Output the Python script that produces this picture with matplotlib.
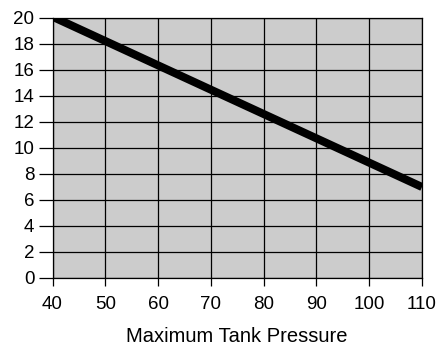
import matplotlib.pyplot as plt

plt.rcParams['font.family'] = ['Liberation Sans', 'DejaVu Sans']

# data
pressure = [40, 110]
value = [20.1, 7.0]
x_ticks = [40, 50, 60, 70, 80, 90, 100, 110]
y_ticks = [0, 2, 4, 6, 8, 10, 12, 14, 16, 18, 20]

fig = plt.figure(figsize=(4.37, 3.49), dpi=100)
ax = fig.add_axes([52.5 / 437, 1 - 278 / 349, (422 - 52.5) / 437, (278 - 18) / 349])
ax.set_facecolor('#cccccc')

ax.plot(pressure, value, color='black', linewidth=5.8, solid_capstyle='butt', zorder=3)

ax.set_xlim(40, 110)
ax.set_ylim(0, 20)
ax.set_xticks(x_ticks)
ax.set_yticks(y_ticks)
ax.grid(True, color='black', linewidth=0.9)
ax.set_axisbelow(True)
for s in ax.spines.values():
    s.set_linewidth(0.9)

ax.tick_params(axis='y', length=10, width=0.9, labelsize=13.5, pad=3)
ax.tick_params(axis='x', length=6, width=0.9, labelsize=13.5, pad=7)
ax.set_xlabel('Maximum Tank Pressure', fontsize=14.5, labelpad=10)

fig.savefig('out.png', dpi=100)
